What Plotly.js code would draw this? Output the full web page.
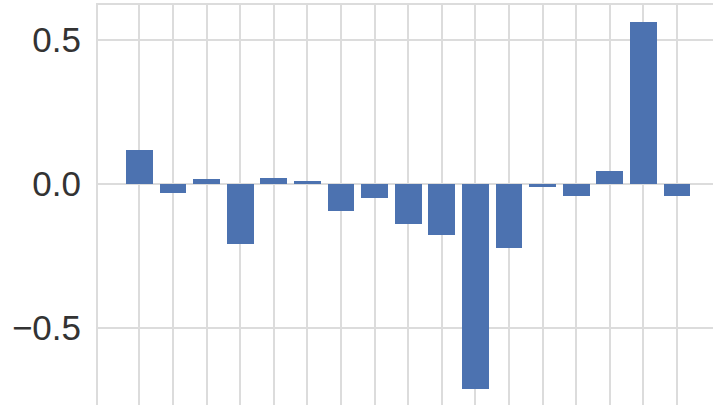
<!DOCTYPE html>
<html>
<head>
<meta charset="utf-8">
<script src="https://cdn.plot.ly/plotly-3.0.1.min.js"></script>
<style>
html, body { margin: 0; padding: 0; overflow: hidden; background: #fff; }
#chart { width: 720px; height: 410px; }
</style>
</head>
<body>
<div id="chart"></div>
<script>
// Bar positions (category index) and values
const positions = [0, 1, 2, 3, 4, 5, 6, 7, 8, 9, 10, 11, 12, 13, 14, 15, 16];
const values = [0.118, -0.030, 0.016, -0.209, 0.022, 0.009, -0.094, -0.049, -0.140,
                -0.177, -0.713, -0.222, -0.009, -0.042, 0.046, 0.561, -0.042];
const yTickVals = [-0.5, 0.0, 0.5];
const yTickText = ["\u22120.5", "0.0", "0.5"];

const gridColor = "#dcdcdc";

Plotly.newPlot("chart", [{
  type: "bar",
  x: positions,
  y: values,
  width: 0.8,
  marker: { color: "#4c72b0", line: { width: 0 } },
  hoverinfo: "skip"
}], {
  width: 720,
  height: 410,
  margin: { l: 98, r: 3, t: 5, b: 2, pad: 0 },
  paper_bgcolor: "#ffffff",
  plot_bgcolor: "#ffffff",
  showlegend: false,
  bargap: 0,
  xaxis: {
    range: [-1.23, 17.19],
    tickvals: positions,
    showticklabels: false,
    ticks: "",
    showgrid: true,
    gridcolor: gridColor,
    gridwidth: 2,
    zeroline: false,
    showline: true,
    linecolor: gridColor,
    linewidth: 2,
    mirror: true,
    fixedrange: true
  },
  yaxis: {
    range: [-0.778, 0.6215],
    tickvals: yTickVals,
    ticktext: yTickText,
    ticks: "",
    ticklabelstandoff: 8,
    tickfont: { family: "Liberation Sans, Arial, sans-serif", size: 35, color: "#333333" },
    showgrid: true,
    gridcolor: gridColor,
    gridwidth: 2,
    zeroline: false,
    showline: true,
    linecolor: gridColor,
    linewidth: 2,
    mirror: true,
    fixedrange: true
  }
}, { displayModeBar: false, staticPlot: true });
</script>
</body>
</html>
